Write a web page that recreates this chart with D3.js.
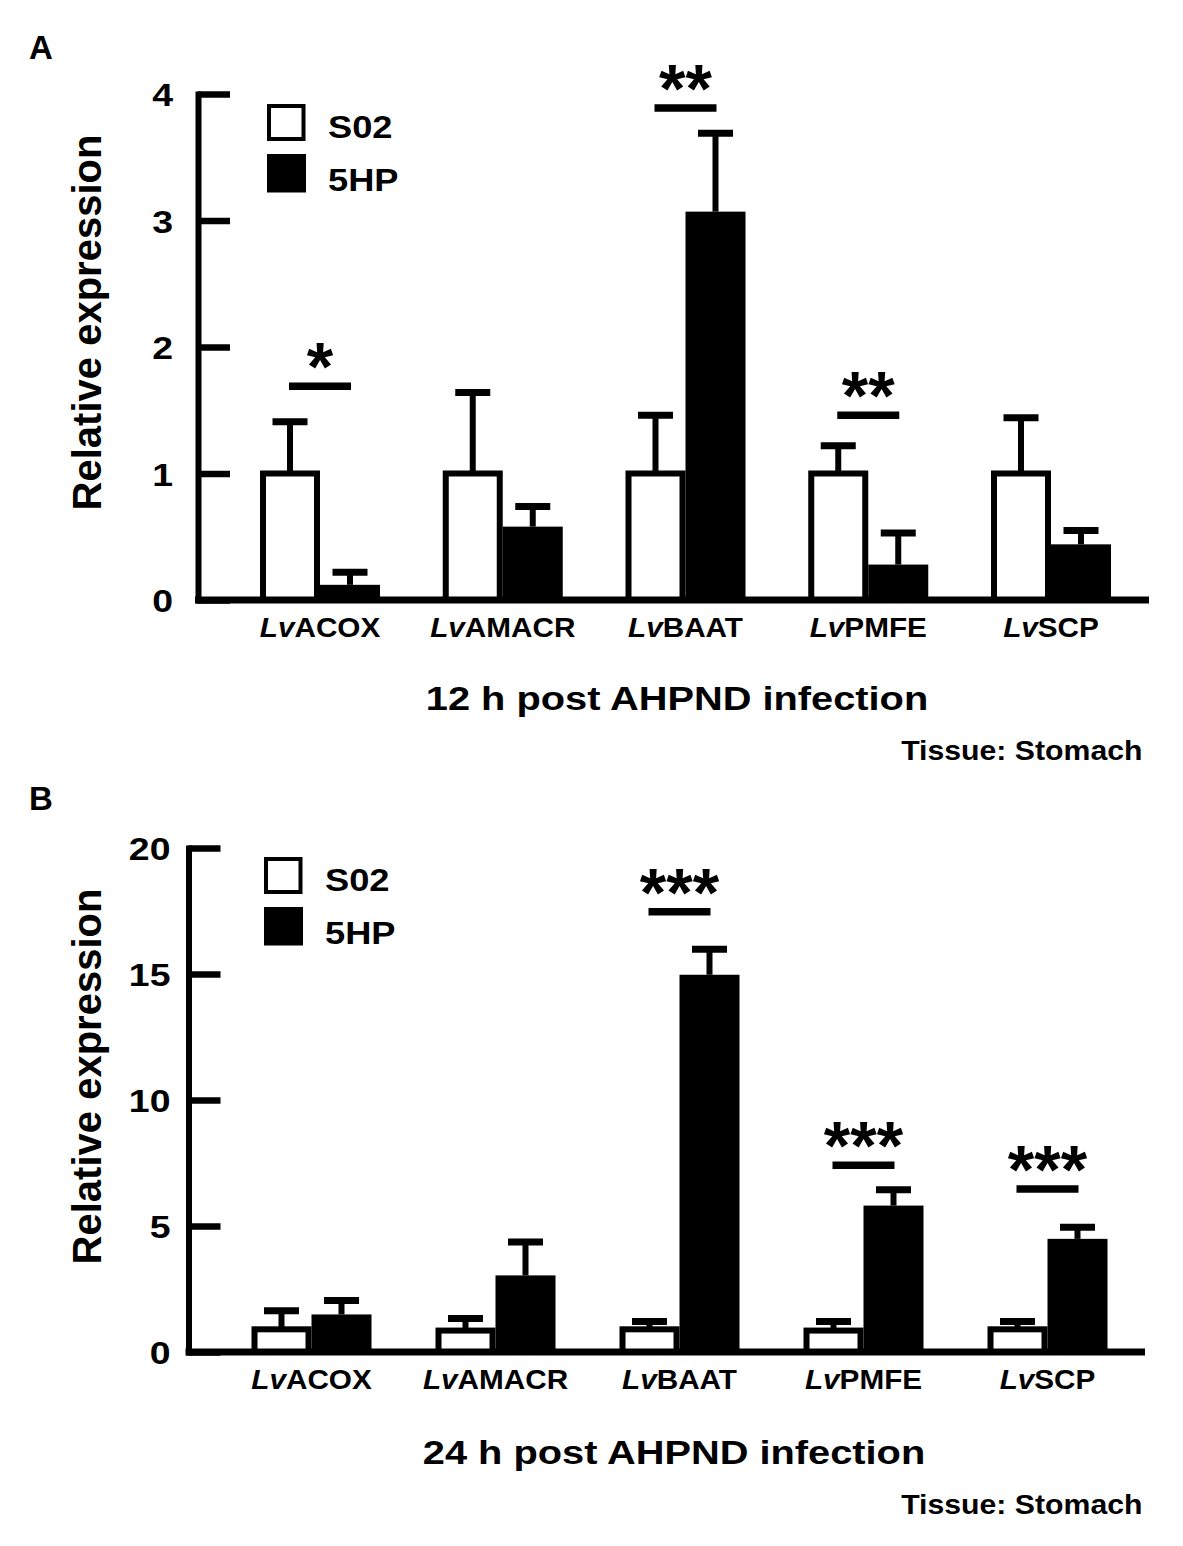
<!DOCTYPE html>
<html>
<head>
<meta charset="utf-8">
<script src="https://cdn.jsdelivr.net/npm/d3@7"></script>
<style>
  body { margin: 0; background: #fff; }
  text { font-family: "Liberation Sans", Arial, sans-serif; font-weight: bold; fill: #000; }
</style>
</head>
<body>
<div id="figure"></div>
<script>
// genes and groups
const genes  = ["ACOX", "AMACR", "BAAT", "PMFE", "SCP"];
const groups = ["S02", "5HP"];

// A) 12 h post infection (mean, upper error)
const s02_12h     = [1.00, 1.00, 1.00, 1.00, 1.00];
const s02_12h_err = [0.41, 0.64, 0.46, 0.22, 0.44];
const hp_12h      = [0.12, 0.58, 3.07, 0.28, 0.44];
const hp_12h_err  = [0.10, 0.16, 0.62, 0.25, 0.11];
const sig_12h     = [["ACOX", 1.69, "*"], ["BAAT", 3.89, "**"], ["PMFE", 1.46, "**"]];
const ticks_12h   = [0, 1, 2, 3, 4];

// B) 24 h post infection
const s02_24h     = [0.90, 0.85, 0.90, 0.85, 0.90];
const s02_24h_err = [0.74, 0.48, 0.31, 0.36, 0.31];
const hp_24h      = [1.49, 3.04, 14.97, 5.81, 4.49];
const hp_24h_err  = [0.55, 1.33, 1.01, 0.63, 0.46];
const sig_24h     = [["BAAT", 17.47, "***"], ["PMFE", 7.41, "***"], ["SCP", 6.47, "***"]];
const ticks_24h   = [0, 5, 10, 15, 20];

const SX = 1.17; // the original lettering is a little wide

const svg = d3.select("#figure").append("svg")
  .attr("width", 1183).attr("height", 1546)
  .style("display", "block");

svg.append("rect").attr("width", 1183).attr("height", 1546).attr("fill", "#fff");

// text helper, stretched horizontally like the original
function label(parent, x, y, str, size, anchor, sx = SX) {
  return parent.append("text")
    .attr("transform", `translate(${x},${y}) scale(${sx},1)`)
    .attr("text-anchor", anchor)
    .style("font-size", size + "px")
    .text(str);
}

function drawPanel(p) {
  const g = svg.append("g");

  // scales
  const y = d3.scaleLinear().domain([0, p.ticks[p.ticks.length - 1]]).range([p.yBottom, p.yTop]);
  const x = d3.scalePoint().domain(genes).range(p.xRange);
  const xg = d3.scaleBand().domain(groups).range([-60, 60]);

  const rows = genes.map((gene, i) => ({
    gene,
    s02: p.s02[i], s02Err: p.s02Err[i],
    hp: p.hp[i], hpErr: p.hpErr[i]
  }));

  // panel letter
  label(g, 29, p.letterY, p.letter, 33, "start", 1);

  // bars: S02 open, 5HP filled
  g.selectAll("rect.s02").data(rows).enter().append("rect")
    .attr("class", "s02")
    .attr("x", d => x(d.gene) + xg("S02") + 3)
    .attr("width", xg.bandwidth() - 6)
    .attr("y", d => y(d.s02))
    .attr("height", d => y(0) - y(d.s02))
    .attr("fill", "#fff").attr("stroke", "#000").attr("stroke-width", 6);

  g.selectAll("rect.hp").data(rows).enter().append("rect")
    .attr("class", "hp")
    .attr("x", d => x(d.gene) + xg("5HP"))
    .attr("width", xg.bandwidth())
    .attr("y", d => y(d.hp))
    .attr("height", d => y(0) - y(d.hp))
    .attr("fill", "#000");

  // error bars (upper only)
  const errs = [];
  rows.forEach(d => {
    errs.push({ cx: x(d.gene) + xg("S02") + xg.bandwidth() / 2, v: d.s02, e: d.s02Err });
    errs.push({ cx: x(d.gene) + xg("5HP") + xg.bandwidth() / 2, v: d.hp, e: d.hpErr });
  });
  g.selectAll("line.stem").data(errs).enter().append("line")
    .attr("class", "stem")
    .attr("x1", d => d.cx).attr("x2", d => d.cx)
    .attr("y1", d => y(d.v)).attr("y2", d => y(d.v + d.e))
    .attr("stroke", "#000").attr("stroke-width", 6);
  g.selectAll("line.cap").data(errs).enter().append("line")
    .attr("class", "cap")
    .attr("x1", d => d.cx - 17.5).attr("x2", d => d.cx + 17.5)
    .attr("y1", d => y(d.v + d.e)).attr("y2", d => y(d.v + d.e))
    .attr("stroke", "#000").attr("stroke-width", 7);

  // significance bars and stars
  g.selectAll("line.sig").data(p.sig).enter().append("line")
    .attr("class", "sig")
    .attr("x1", d => x(d[0]) - 31).attr("x2", d => x(d[0]) + 31)
    .attr("y1", d => y(d[1])).attr("y2", d => y(d[1]))
    .attr("stroke", "#000").attr("stroke-width", 7.5);
  g.selectAll("text.star").data(p.sig).enter().append("text")
    .attr("class", "star")
    .attr("x", d => x(d[0]))
    .attr("y", d => y(d[1]) + 4)
    .attr("text-anchor", "middle")
    .style("font-size", "68px")
    .text(d => d[2]);

  // y axis, ticks pointing inward
  const yAxis = g.append("g")
    .attr("transform", `translate(${p.axisX},0)`)
    .call(d3.axisLeft(y).tickValues(p.ticks).tickFormat(d3.format("d"))
      .tickSizeInner(-32).tickSizeOuter(0).tickPadding(p.tickPad));
  yAxis.select(".domain").attr("stroke-width", 6).attr("stroke-linecap", "square");
  yAxis.selectAll(".tick line").attr("stroke-width", 6.5);
  yAxis.selectAll(".tick text")
    .attr("x", 0).attr("dy", "0.36em")
    .attr("transform", `translate(${-p.tickPad},0) scale(${SX},1)`)
    .style("font-size", "32px");
  yAxis.attr("font-family", null).attr("font-size", null);

  // baseline
  g.append("line")
    .attr("x1", p.axisX - 3).attr("x2", p.axisEnd)
    .attr("y1", y(0)).attr("y2", y(0))
    .attr("stroke", "#000").attr("stroke-width", 7);

  // category labels
  rows.forEach(d => {
    const t = g.append("text")
      .attr("transform", `translate(${x(d.gene)},${y(0) + 37}) scale(1.1,1)`)
      .attr("text-anchor", "middle")
      .style("font-size", "27px");
    t.append("tspan").style("font-style", "italic").text("Lv");
    t.append("tspan").text(d.gene);
  });

  // y label
  g.append("text")
    .attr("transform", `translate(101,${p.ylabelY}) rotate(-90)`)
    .attr("text-anchor", "middle")
    .style("font-size", "40px")
    .text("Relative expression");

  // legend
  const lg = g.append("g").attr("transform", `translate(${p.legendX},${p.legendY})`);
  lg.append("rect").attr("x", 2).attr("y", 2).attr("width", 34.5).attr("height", 33)
    .attr("fill", "#fff").attr("stroke", "#000").attr("stroke-width", 4);
  lg.append("rect").attr("x", 0).attr("y", 50).attr("width", 39).attr("height", 38.5)
    .attr("fill", "#000");
  label(lg, 61, 34, groups[0], 31, "start");
  label(lg, 61, 87, groups[1], 31, "start");

  // titles
  label(g, p.titleX, p.titleY, p.title, 34, "middle");
  label(g, 1142.5, p.titleY + 50, "Tissue: Stomach", 27, "end", 1.12);
}

drawPanel({
  letter: "A", letterY: 59,
  s02: s02_12h, s02Err: s02_12h_err, hp: hp_12h, hpErr: hp_12h_err,
  sig: sig_12h, ticks: ticks_12h,
  yTop: 94, yBottom: 600, axisX: 198, axisEnd: 1149,
  xRange: [320, 1051], tickPad: 25,
  legendX: 267, legendY: 104, ylabelY: 322.5,
  title: "12 h post AHPND infection", titleX: 677, titleY: 709.5
});

drawPanel({
  letter: "B", letterY: 810,
  s02: s02_24h, s02Err: s02_24h_err, hp: hp_24h, hpErr: hp_24h_err,
  sig: sig_24h, ticks: ticks_24h,
  yTop: 848, yBottom: 1352, axisX: 188.5, axisEnd: 1145,
  xRange: [311.5, 1047.5], tickPad: 18,
  legendX: 264, legendY: 857, ylabelY: 1076.5,
  title: "24 h post AHPND infection", titleX: 674, titleY: 1463.5
});
</script>
</body>
</html>
